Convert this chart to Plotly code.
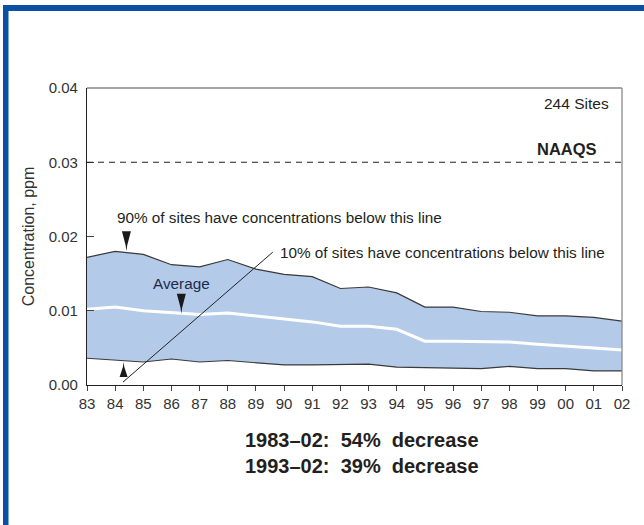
import plotly.graph_objects as go

years = list(range(1983, 2003))
tick_labels = ["83", "84", "85", "86", "87", "88", "89", "90", "91", "92",
               "93", "94", "95", "96", "97", "98", "99", "00", "01", "02"]
pct90 = [0.0172, 0.0180, 0.0176, 0.0162, 0.0159, 0.0169, 0.0156, 0.0149, 0.0146, 0.0130,
         0.0132, 0.0124, 0.0105, 0.0105, 0.0099, 0.0098, 0.0093, 0.0093, 0.0091, 0.0086]
average = [0.0102, 0.0105, 0.0100, 0.0097, 0.0095, 0.0097, 0.0093, 0.0088, 0.0085, 0.0079,
           0.0079, 0.0075, 0.0059, 0.0059, 0.0058, 0.0058, 0.0055, 0.0053, 0.0050, 0.0047]
pct10 = [0.0036, 0.0033, 0.0031, 0.0035, 0.0031, 0.0033, 0.0030, 0.0027, 0.0027, 0.0027,
         0.0028, 0.0024, 0.0023, 0.0023, 0.0022, 0.0025, 0.0022, 0.0022, 0.0019, 0.0019]
naaqs = 0.03

FONT = "Liberation Sans, Arial, sans-serif"
TXT = "#231f20"

fig = go.Figure()
fig.add_trace(go.Scatter(x=years, y=pct10, mode="lines",
                         line=dict(color="#3a3a3a", width=1.2), hoverinfo="skip"))
fig.add_trace(go.Scatter(x=years, y=pct90, mode="lines", fill="tonexty",
                         fillcolor="#b3cbe8",
                         line=dict(color="#3a3a3a", width=1.2), hoverinfo="skip"))
fig.add_trace(go.Scatter(x=years, y=average, mode="lines",
                         line=dict(color="white", width=3), hoverinfo="skip"))

# plot area pixel geometry (for paper-coordinate decorations)
L, R, T, B = 87, 622, 88, 385
W, H = R - L, B - T
def px(x):
    return (x - L) / W
def py(y):
    return (B - y) / H

def dart(xa, ya):
    return dict(type="path", xref="x", yref="y", xsizemode="pixel", ysizemode="pixel",
                xanchor=xa, yanchor=ya,
                path="M -4.5,20 L 4.5,20 L 0.8,6 L 0,0 L -0.8,6 Z",
                fillcolor="#1a1a1a", line=dict(width=0))

def dart_up(xa, ya):
    return dict(type="path", xref="x", yref="y", xsizemode="pixel", ysizemode="pixel",
                xanchor=xa, yanchor=ya,
                path="M -4,-15 L 4,-15 L 0.7,-5 L 0,0 L -0.7,-5 Z",
                fillcolor="#1a1a1a", line=dict(width=0))

shapes = [
    dict(type="line", xref="paper", yref="y", x0=0, x1=1, y0=naaqs, y1=naaqs,
         line=dict(color="#222", width=1, dash="6px,5px")),
    dict(type="line", xref="paper", yref="paper", x0=0, x1=1, y0=1, y1=1,
         line=dict(color="#8a8a8a", width=1.3)),
    dict(type="line", xref="paper", yref="paper", x0=1, x1=1, y0=0, y1=1,
         line=dict(color="#8a8a8a", width=1.3)),
    dict(type="line", xref="x", yref="y", x0=1984.28, y0=0.0004, x1=1989.6, y1=0.0179,
         line=dict(color="#222", width=1)),
    dart(1984.4, 0.0180),
    dart(1986.35, 0.0096),
    dart_up(1984.3, 0.0031),
    dict(type="rect", xref="paper", yref="paper", x0=px(3), x1=px(650), y0=py(11), y1=py(5),
         fillcolor="#0a50a3", line=dict(width=0), layer="above"),
    dict(type="rect", xref="paper", yref="paper", x0=px(3), x1=px(8.5), y0=py(530), y1=py(5),
         fillcolor="#0a50a3", line=dict(width=0), layer="above"),
]

annotations = [
    dict(text="244 Sites", x=2001.6, y=0.0379, xref="x", yref="y", xanchor="right",
         yanchor="middle", showarrow=False, font=dict(size=15.5, color=TXT, family=FONT)),
    dict(text="<b>NAAQS</b>", x=2001.2, y=0.0318, xref="x", yref="y", xanchor="right",
         yanchor="middle", showarrow=False, font=dict(size=16.5, color=TXT, family=FONT)),
    dict(text="90% of sites have concentrations below this line", x=1984.0, y=0.0225,
         xref="x", yref="y", xanchor="left", yanchor="middle", showarrow=False,
         font=dict(size=15.3, color=TXT, family=FONT)),
    dict(text="10% of sites have concentrations below this line", x=1989.8, y=0.0178,
         xref="x", yref="y", xanchor="left", yanchor="middle", showarrow=False,
         font=dict(size=15.3, color=TXT, family=FONT)),
    dict(text="Average", x=1986.35, y=0.0137, xref="x", yref="y", xanchor="center",
         yanchor="middle", showarrow=False, font=dict(size=15.3, color="#1f2a4a", family=FONT)),
    dict(text="<b>1983–02:  54%  decrease</b><br><b>1993–02:  39%  decrease</b>",
         x=px(361.5), y=py(453), xref="paper", yref="paper", xanchor="center",
         yanchor="middle", showarrow=False, align="center",
         font=dict(size=20, color=TXT, family=FONT)),
]

fig.update_layout(
    width=644, height=525,
    margin=dict(l=L, r=644 - R, t=T, b=525 - B),
    paper_bgcolor="white", plot_bgcolor="white",
    showlegend=False,
    shapes=shapes, annotations=annotations,
    xaxis=dict(range=[1983, 2002], tickmode="array", tickvals=years, ticktext=tick_labels,
               showgrid=False, zeroline=False, showline=True, linecolor="#222", linewidth=1.3,
               ticks="outside", ticklen=5, tickcolor="#444", tickwidth=1,
               tickfont=dict(size=15, color="#333", family=FONT)),
    yaxis=dict(range=[0, 0.04], tickvals=[0, 0.01, 0.02, 0.03, 0.04],
               ticktext=["0.00", "0.01", "0.02", "0.03", "0.04"],
               showgrid=False, zeroline=False, showline=True, linecolor="#222", linewidth=1.3,
               ticks="inside", ticklen=7, tickcolor="#444", tickwidth=1,
               ticklabelstandoff=5,
               tickfont=dict(size=15, color="#333", family=FONT),
               title=dict(text="Concentration, ppm", standoff=10,
                          font=dict(size=16, color="#333", family=FONT))),
)

fig.write_html("out.html", config={"displayModeBar": False},
               post_script="document.body.style.margin='0';")
